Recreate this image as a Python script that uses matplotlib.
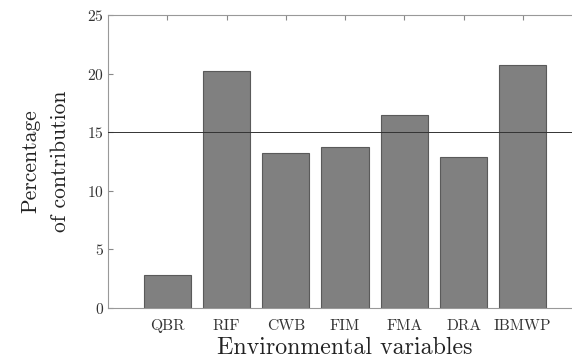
import numpy as np
import matplotlib
matplotlib.use('Agg')
from matplotlib import pyplot as plt

plt.rcParams['font.family'] = 'cmr10'
plt.rcParams['mathtext.fontset'] = 'cm'
plt.rcParams['axes.formatter.use_mathtext'] = True

variables = ['QBR', 'RIF', 'CWB', 'FIM', 'FMA', 'DRA', 'IBMWP']
contribution = [2.8, 20.2, 13.2, 13.7, 16.5, 12.9, 20.7]
threshold = 15

fig = plt.figure(figsize=(5.72, 3.63), dpi=100)
# axes run past the right edge of the figure
ax = fig.add_axes([108 / 572, 1 - 308 / 363, 474 / 572, 293 / 363])

x = np.arange(1, len(variables) + 1)
ax.bar(x, contribution, width=0.8, color='#808080', edgecolor='#5a5a5a', linewidth=0.8, zorder=2)
ax.axhline(threshold, color='#333333', linewidth=0.7, zorder=3)

ax.set_xlim(0, 8)
ax.set_ylim(0, 25)
ax.set_xticks(x)
ax.set_xticklabels(variables)
ax.set_yticks([0, 5, 10, 15, 20, 25])
ax.tick_params(direction='in', length=3.5, color='#888888', labelsize=11.2,
               labelcolor='#333333', top=True)
ax.tick_params(axis='y', pad=3)
ax.tick_params(axis='x', pad=8)
for s in ax.spines.values():
    s.set_color('#999999')
    s.set_linewidth(0.8)

ax.set_ylabel('Percentage\nof contribution', fontsize=15.5, color='#222222',
              linespacing=1.7, labelpad=12)
ax.set_xlabel('Environmental variables', fontsize=17.2, color='#222222', labelpad=3)

fig.savefig('out.png', dpi=100)
